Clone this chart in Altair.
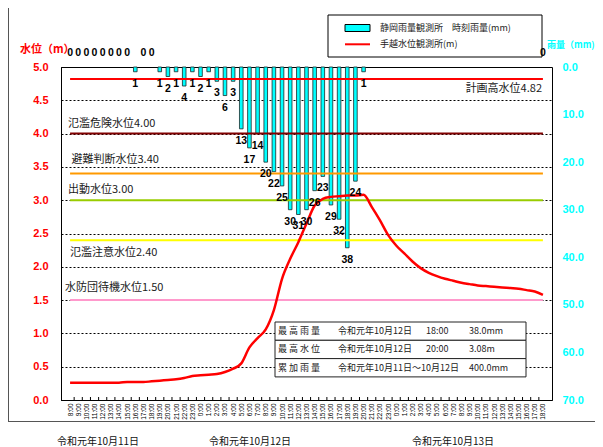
import altair as alt
import pandas as pd

# ---------------- data ----------------
hour_labels = [
    "8:00", "9:00", "10:00", "11:00", "12:00", "13:00", "14:00", "15:00",
    "16:00", "17:00", "18:00", "19:00", "20:00", "21:00", "22:00", "23:00",
    "0:00", "1:00", "2:00", "3:00", "4:00", "5:00", "6:00", "7:00",
    "8:00", "9:00", "10:00", "11:00", "12:00", "13:00", "14:00", "15:00",
    "16:00", "17:00", "18:00", "19:00", "20:00", "21:00", "22:00", "23:00",
    "0:00", "1:00", "2:00", "3:00", "4:00", "5:00", "6:00", "7:00",
    "8:00", "9:00", "10:00", "11:00", "12:00", "13:00", "14:00", "15:00",
    "16:00", "17:00", "18:00",
]

rain_mm = [
    0, 0, 0, 0, 0, 0, 0, 0, 1, 0, 0, 1, 2, 1, 4, 1,
    2, 1, 3, 6, 3, 13, 17, 14, 20, 22, 25, 30, 31, 30, 26, 23,
    29, 32, 38, 24, 1, None, None, None,
    None, None, None, None, None, None, None, None, None, None,
    None, None, None, None, None, None, None, None, 0,
]

water_m = [
    0.26, 0.26, 0.26, 0.26, 0.26, 0.26, 0.26, 0.27, 0.27, 0.27, 0.28, 0.29,
    0.30, 0.31, 0.33, 0.36,
    0.37, 0.38, 0.39, 0.42, 0.47, 0.55, 0.79, 0.93, 1.06, 1.35, 1.82, 2.12,
    2.37, 2.65, 2.92, 3.02, 3.05, 3.06, 3.07, 3.07, 3.08, 2.90, 2.70, 2.48,
    2.32, 2.20, 2.08, 1.98, 1.91, 1.86, 1.82, 1.79, 1.76, 1.74, 1.72, 1.71,
    1.70, 1.69, 1.68, 1.67, 1.65, 1.63, 1.58,
]

threshold_names = ["計画高水位4.82", "氾濫危険水位4.00", "避難判断水位3.40",
                   "出動水位3.00", "氾濫注意水位2.40", "水防団待機水位1.50"]
threshold_levels = [4.82, 4.00, 3.40, 3.00, 2.40, 1.50]
threshold_colors = ["#FF0000", "#800000", "#FF9900", "#99CC00", "#FFFF00", "#FF99CC"]

left_ticks = [0.0, 0.5, 1.0, 1.5, 2.0, 2.5, 3.0, 3.5, 4.0, 4.5, 5.0]
right_ticks = [0, 10, 20, 30, 40, 50, 60, 70]

legend_labels = ["静岡雨量観測所　時刻雨量(mm)", "手越水位観測所(m)"]
table_items = ["最 高 雨 量", "最 高 水 位", "累 加 雨 量"]
table_dates = ["令和元年10月12日", "令和元年10月12日", "令和元年10月11日～10月12日"]
table_times = ["18:00", "20:00", ""]
table_values = ["38.0mm", "3.08m", "400.0mm"]
date_labels = ["令和元年10月11日", "令和元年10月12日", "令和元年10月13日"]

# ---------------- layout ----------------
W, H = 491, 333
JP = "Noto Sans CJK JP"
LAT = "Liberation Sans"

idx = list(range(len(hour_labels)))
df = pd.DataFrame({"i": idx, "label": hour_labels, "rain": rain_mm, "level": water_m})
tdf = pd.DataFrame({"name": threshold_names, "level": threshold_levels,
                    "x0": [idx[0]] * len(threshold_levels),
                    "x1": [idx[-1]] * len(threshold_levels)})
bdf = pd.DataFrame({"b": [v + 0.5 for v in idx[:-1]]})
one = pd.DataFrame({"k": [0]})

xscale = alt.Scale(domain=[-0.5, len(idx) - 0.5], nice=False, zero=False)
wscale = alt.Scale(domain=[0, 5], nice=False)
rscale = alt.Scale(domain=[0, 70], nice=False, reverse=True)

label_js = "[" + ",".join("'" + s + "'" for s in hour_labels) + "][datum.value]"
x_axis = alt.Axis(values=idx, labelExpr=label_js, labelAngle=270, labelAlign="right",
                  labelBaseline="middle", labelFontSize=6.5, labelFont=LAT,
                  labelColor="black", labelPadding=3, ticks=False, grid=False,
                  domainColor="black", domainWidth=1, title=None,
                  labelOverlap=False, labelFlush=False)
y_axis = alt.Axis(values=left_ticks, format=".1f", labelColor="#FF0000", labelFont=LAT,
                  labelFontWeight="bold", labelFontSize=11, labelPadding=13,
                  ticks=False, grid=True, gridColor="black", gridDash=[2, 2],
                  gridWidth=1, gridOpacity=1, domainColor="black", title=None,
                  labelFlush=False)
r_axis = alt.Axis(orient="right", values=right_ticks, format=".1f", labelColor="#00FFFF",
                  labelFont=LAT, labelFontWeight="bold", labelFontSize=11,
                  labelPadding=10, ticks=False, grid=False, domain=False, title=None,
                  labelFlush=False)

# ---------------- rain bars ----------------
bars = alt.Chart(df).mark_bar(color="#00FFFF", stroke="#1a2a2a", strokeWidth=0.8, size=3.6).encode(
    x=alt.X("i:Q", scale=xscale, axis=x_axis),
    y=alt.Y("rain:Q", scale=rscale, axis=r_axis),
).transform_filter("datum.rain != null && datum.rain > 0")

# ---------------- water group ----------------
layers = []
# inner ticks on the x axis
layers.append(alt.Chart(bdf).mark_rule(color="black", strokeWidth=1).encode(
    x=alt.X("b:Q", scale=xscale, axis=x_axis),
    y=alt.value(H), y2=alt.value(H - 3)))

layers.append(alt.Chart(tdf).mark_rule(strokeWidth=2).encode(
    x=alt.X("x0:Q", scale=xscale, axis=x_axis), x2="x1:Q",
    y=alt.Y("level:Q", scale=wscale, axis=y_axis),
    color=alt.Color("name:N", scale=alt.Scale(domain=threshold_names, range=threshold_colors), legend=None)))

lab_dx = [481, 7, 10.5, 7, 9, 4]
lab_dy = [10.3, -9.4, -13.4, -10, 12.7, -12.3]
lab_align = ["right", "left", "left", "left", "left", "left"]
for k, nm in enumerate(threshold_names):
    layers.append(alt.Chart(tdf).transform_filter(alt.datum.name == nm).mark_text(
        align=lab_align[k], baseline="middle", dy=lab_dy[k], font=JP, fontSize=11,
        color="#1a1a1a").encode(
        x=alt.value(lab_dx[k]),
        y=alt.Y("level:Q", scale=wscale, axis=y_axis),
        text="name:N"))

layers.append(alt.Chart(df).mark_line(color="#FF0000", strokeWidth=2.5, interpolate="monotone").encode(
    x=alt.X("i:Q", scale=xscale, axis=x_axis),
    y=alt.Y("level:Q", scale=wscale, axis=y_axis)))

# axis titles
layers.append(alt.Chart(one).mark_text(align="left", baseline="middle", font=JP, fontSize=11,
                                        fontWeight="bold", color="#FF0000", text="水位（m）").encode(
    x=alt.value(-41), y=alt.value(-17)))
layers.append(alt.Chart(one).mark_text(align="left", baseline="middle", font=JP, fontSize=9,
                                        fontWeight="bold", color="#00FFFF", text="雨量（mm)").encode(
    x=alt.value(486), y=alt.value(-22)))

# legend
layers.append(alt.Chart(one).mark_rect(fill="white", stroke="black", strokeWidth=1).encode(
    x=alt.value(267), x2=alt.value(481), y=alt.value(-52), y2=alt.value(-10)))
layers.append(alt.Chart(one).mark_rect(fill="#00FFFF", stroke="black", strokeWidth=1).encode(
    x=alt.value(284), x2=alt.value(309), y=alt.value(-42.5), y2=alt.value(-35.5)))
layers.append(alt.Chart(one).mark_rule(color="#FF0000", strokeWidth=2).encode(
    x=alt.value(284), x2=alt.value(309), y=alt.value(-22.7)))
layers.append(alt.Chart(one).mark_text(align="left", baseline="middle", font=JP, fontSize=9,
                                        color="#222", text=legend_labels[0]).encode(
    x=alt.value(319), y=alt.value(-39)))
layers.append(alt.Chart(one).mark_text(align="left", baseline="middle", font=JP, fontSize=9,
                                        color="#222", text=legend_labels[1]).encode(
    x=alt.value(319), y=alt.value(-22.7)))

# summary table
row_h = 18.3
t_top = 255
for r in range(len(table_items)):
    y0 = t_top + r * row_h
    layers.append(alt.Chart(one).mark_rect(fill="white", stroke="#222", strokeWidth=1).encode(
        x=alt.value(214), x2=alt.value(465), y=alt.value(y0), y2=alt.value(y0 + row_h)))
    for txt, xp in [(table_items[r], 217), (table_dates[r], 277),
                    (table_times[r], 365), (table_values[r], 408)]:
        if txt:
            layers.append(alt.Chart(one).mark_text(align="left", baseline="middle", font=JP,
                                                    fontSize=9, color="#222", text=txt).encode(
                x=alt.value(xp), y=alt.value(y0 + row_h / 2)))

# outer frame lines
layers.append(alt.Chart(one).mark_rule(color="#555", strokeWidth=1).encode(
    x=alt.value(-52.5), y=alt.value(-67), y2=alt.value(355)))
layers.append(alt.Chart(one).mark_rule(color="#555", strokeWidth=1).encode(
    x=alt.value(-53), x2=alt.value(545), y=alt.value(354.5)))

# date labels
for txt, xp in zip(date_labels, [37, 189, 392]):
    layers.append(alt.Chart(one).mark_text(align="center", baseline="middle", font=JP,
                                            fontSize=10, color="#111", text=txt).encode(
        x=alt.value(xp), y=alt.value(374.5)))

water = alt.layer(*layers)

# ---------------- rain labels ----------------
rain_text = alt.Chart(df).transform_filter("datum.rain != null && datum.rain > 0").mark_text(
    align="center", baseline="middle", dy=12, font=LAT, fontSize=10.5, fontWeight="bold",
    color="black").encode(
    x=alt.X("i:Q", scale=xscale, axis=x_axis),
    y=alt.Y("rain:Q", scale=rscale, axis=None),
    text=alt.Text("rain:Q", format="d"))
zero_text = alt.Chart(df).transform_filter("datum.rain === 0").mark_text(
    align="center", baseline="middle", dy=-14, font=LAT, fontSize=10.5, fontWeight="bold",
    color="black").encode(
    x=alt.X("i:Q", scale=xscale, axis=x_axis),
    y=alt.Y("rain:Q", scale=rscale, axis=None),
    text=alt.Text("rain:Q", format="d"))
rain_labels = alt.layer(rain_text, zero_text)

chart = alt.layer(bars, water, rain_labels).resolve_scale(y="independent").properties(
    width=W, height=H, autosize="none",
    padding={"left": 53, "top": 59, "right": 43, "bottom": 52},
    background="white",
).configure_view(stroke="black", strokeWidth=1)

chart.save("out.html", embed_options={"renderer": "svg", "actions": False})
